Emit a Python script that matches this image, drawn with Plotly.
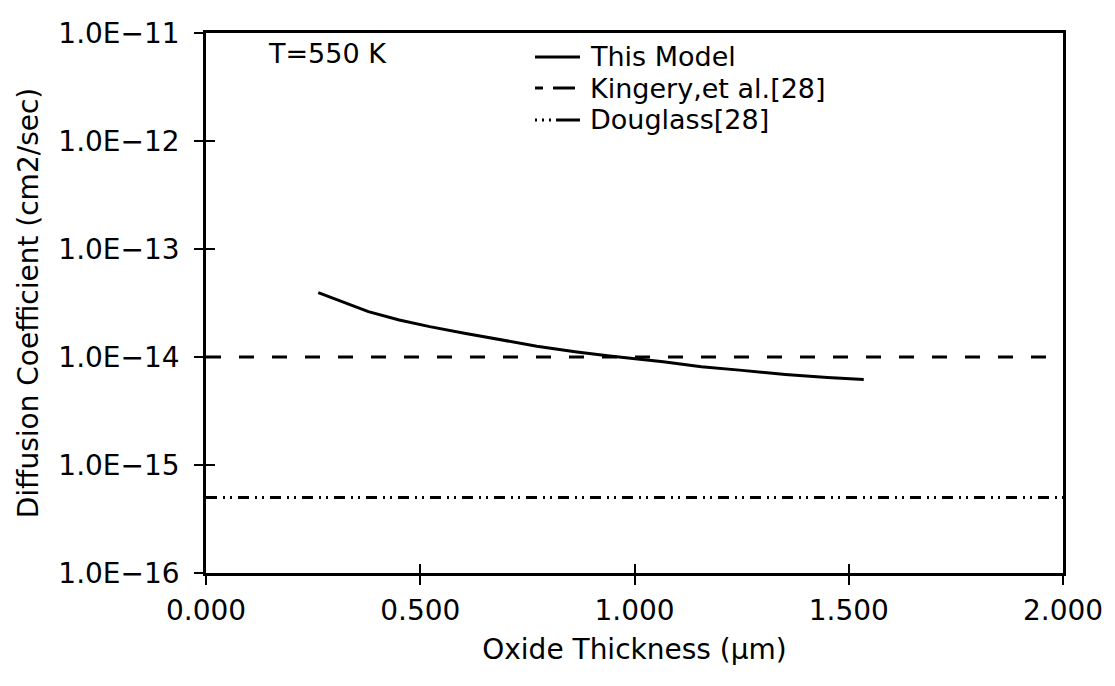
import plotly.graph_objects as go

# ---- data ----
model_x = [0.262, 0.335, 0.379, 0.451, 0.522, 0.603, 0.692, 0.772, 0.861, 0.942,
           1.067, 1.156, 1.245, 1.352, 1.450, 1.535]
model_y = [3.95e-14, 3.04e-14, 2.63e-14, 2.20e-14, 1.91e-14, 1.66e-14, 1.44e-14, 1.26e-14,
           1.12e-14, 1.02e-14, 9.04e-15, 8.13e-15, 7.56e-15, 6.90e-15, 6.47e-15, 6.19e-15]
kingery_x = [0.0, 2.0]
kingery_y = [1.0e-14, 1.0e-14]
douglass_x = [0.0, 2.0]
douglass_y = [5.0e-16, 5.0e-16]

series_names = ["This Model", "Kingery,et al.[28]", "Douglass[28]"]
series_dash = ["solid", "15px,18px", "11px,6px,2px,5px,2px,6px"]
legend_dash = ["solid", "8px,10px,22px", "2px,5px,2px,5px,2px,5px,25px"]

x_ticks = [0.0, 0.5, 1.0, 1.5, 2.0]
x_ticktext = ["0.000", "0.500", "1.000", "1.500", "2.000"]
y_exps = [-16, -15, -14, -13, -12, -11]
y_ticks = [10.0 ** e for e in y_exps]
y_ticktext = ["1.0E\u2212%d" % (-e) for e in y_exps]

FONT = "DejaVu Sans"
W, H = 1115, 686
ML, MR, MT, MB = 206, 52, 33, 113
PW, PH = W - ML - MR, H - MT - MB

fig = go.Figure()
for xs, ys, nm, ds in zip([model_x, kingery_x, douglass_x], [model_y, kingery_y, douglass_y],
                          series_names, series_dash):
    fig.add_trace(go.Scatter(x=xs, y=ys, mode="lines", name=nm, showlegend=False,
                             line=dict(color="black", width=3, dash=ds)))
# helper trace for the inner-tick overlay axes
fig.add_trace(go.Scatter(x=[None], y=[None], xaxis="x2", yaxis="y2", showlegend=False,
                         hoverinfo="skip", mode="lines"))

axis_common = dict(showgrid=False, zeroline=False, linecolor="black", linewidth=2.5,
                   tickcolor="black", tickwidth=2, ticklen=9,
                   tickfont=dict(family=FONT, size=28, color="black"))


def px_x(p):
    return (p - ML) / PW


def px_y(p):
    return 1 - (p - MT) / PH


# custom legend (paper coordinates)
shapes = []
annotations = []
row_y = [57, 88, 120]
for nm, ds, ry in zip(series_names, legend_dash, row_y):
    shapes.append(dict(type="line", xref="paper", yref="paper", x0=px_x(535), x1=px_x(580),
                       y0=px_y(ry), y1=px_y(ry), line=dict(color="black", width=3, dash=ds)))
    annotations.append(dict(text=nm, xref="paper", yref="paper", x=px_x(588), y=px_y(ry),
                            xanchor="left", yanchor="middle", showarrow=False,
                            font=dict(family=FONT, size=27, color="black")))
annotations.append(dict(text="T=550 K", xref="paper", yref="paper", x=px_x(266), y=px_y(54),
                        xanchor="left", yanchor="middle", showarrow=False,
                        font=dict(family=FONT, size=27, color="black")))

fig.update_layout(
    width=W, height=H,
    margin=dict(l=ML, r=MR, t=MT, b=MB),
    paper_bgcolor="white", plot_bgcolor="white",
    font=dict(family=FONT, color="black"),
    xaxis=dict(range=[0, 2], tickvals=x_ticks, ticktext=x_ticktext, ticks="outside",
               showline=True, mirror=True, ticklabelstandoff=2,
               title=dict(text="Oxide Thickness (\u03bcm)", font=dict(family=FONT, size=28),
                          standoff=14),
               **axis_common),
    yaxis=dict(type="log", range=[-16, -11], tickvals=y_ticks, ticktext=y_ticktext,
               ticks="outside", showline=True, mirror=True, ticklabelstandoff=9,
               title=dict(text="Diffusion Coefficient (cm2/sec)", font=dict(family=FONT, size=28),
                          standoff=12),
               **axis_common),
    xaxis2=dict(range=[0, 2], overlaying="x", side="bottom", tickvals=x_ticks, ticks="inside",
                showticklabels=False, showline=False, showgrid=False, zeroline=False,
                tickcolor="black", tickwidth=2, ticklen=9),
    yaxis2=dict(type="log", range=[-16, -11], overlaying="y", side="left", tickvals=y_ticks,
                ticks="inside", showticklabels=False, showline=False, showgrid=False,
                zeroline=False, tickcolor="black", tickwidth=2, ticklen=9),
    showlegend=False,
    shapes=shapes,
    annotations=annotations,
)

fig.write_html("out.html")
